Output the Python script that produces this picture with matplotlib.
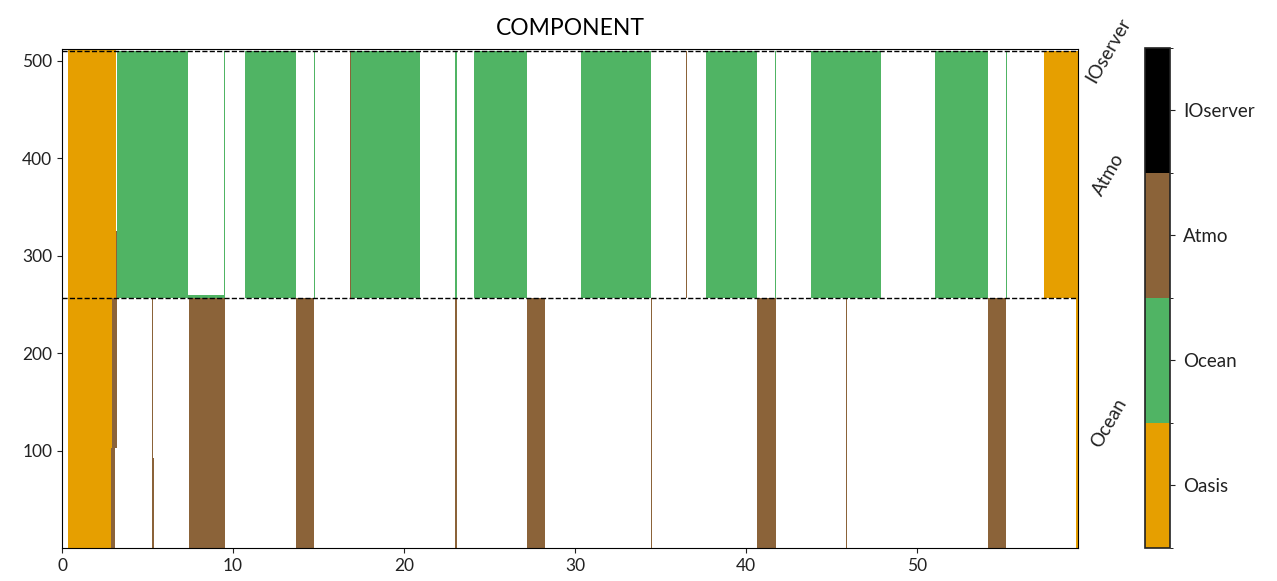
import matplotlib
matplotlib.use("Agg")
import matplotlib.pyplot as plt
from matplotlib.colors import ListedColormap, BoundaryNorm
from matplotlib.cm import ScalarMappable
import matplotlib.transforms as mtransforms

plt.rcParams['font.family'] = ['Lato', 'DejaVu Sans']

components = ["Oasis", "Ocean", "Atmo", "IOserver"]
comp_colors = ["#E69F00", "#50B464", "#8B6339", "#000000"]

# rank groups: (label, first rank, last rank)
group_names = ["Ocean", "Atmo", "IOserver"]
group_lo = [0, 256, 510]
group_hi = [256, 510, 512]

# segments: start time, end time, rank range, component
seg_start = [0.35, 3.2, 9.45, 10.7, 14.72, 16.84, 16.84, 23.0, 24.1, 30.35,
             36.47, 37.66, 41.7, 43.8, 51.05, 55.18, 57.4, 5.4, 3.13,
             0.35, 2.92, 2.85, 5.24, 5.24, 7.43, 13.7, 23.0, 27.2, 34.43, 40.64,
             45.82, 54.15, 59.3]
seg_end = [3.13, 7.37, 9.52, 13.7, 14.79, 20.94, 16.92, 23.07, 27.2, 34.44,
           36.54, 40.64, 41.77, 47.9, 54.15, 55.25, 59.4, 9.52, 3.2,
           2.92, 3.2, 3.12, 5.3, 5.38, 9.53, 14.74, 23.07, 28.25, 34.5, 41.75,
           45.88, 55.2, 59.38]
seg_lo = [256, 256, 256, 256, 256, 256, 256, 256, 256, 256,
          256, 256, 256, 256, 256, 256, 256, 256, 256,
          0, 103, 0, 0, 0, 0, 0, 0, 0, 0, 0,
          0, 0, 0]
seg_hi = [512, 510, 510, 510, 510, 510, 510, 510, 510, 510,
          510, 510, 510, 510, 510, 510, 510, 260, 325,
          256, 256, 103, 256, 92, 256, 256, 256, 256, 256, 256,
          256, 256, 256]
seg_comp = ["Oasis", "Ocean", "Ocean", "Ocean", "Ocean", "Ocean", "Atmo", "Ocean", "Ocean", "Ocean",
            "Atmo", "Ocean", "Ocean", "Ocean", "Ocean", "Ocean", "Oasis", "Ocean", "Atmo",
            "Oasis", "Atmo", "Atmo", "Atmo", "Atmo", "Atmo", "Atmo", "Atmo", "Atmo", "Atmo", "Atmo",
            "Atmo", "Atmo", "Oasis"]

t_max = 59.4
x_ticks = [0, 10, 20, 30, 40, 50]
y_ticks = [100, 200, 300, 400, 500]

fig = plt.figure(figsize=(12.77, 5.81), dpi=100)
ax = fig.add_axes([0.0486, 0.0568, 0.7956, 0.8589])
cax = fig.add_axes([0.8966, 0.0568, 0.0196, 0.8606])

cmap = ListedColormap(comp_colors)
norm = BoundaryNorm([-0.5, 0.5, 1.5, 2.5, 3.5], cmap.N)

for s, e, lo, hi, c in zip(seg_start, seg_end, seg_lo, seg_hi, seg_comp):
    ax.bar(s, hi - lo, width=e - s, bottom=lo, align='edge',
           color=comp_colors[components.index(c)], linewidth=0)

# group boundaries
for lo in group_lo[1:]:
    ax.axhline(lo, color='k', linestyle='--', linewidth=1)

trans = mtransforms.blended_transform_factory(ax.transAxes, ax.transData)
for name, lo, hi in zip(group_names, group_lo, group_hi):
    ax.text(1.03, (lo + hi) / 2, name, transform=trans, rotation=60,
            ha='center', va='center', fontsize=13.5, color='#222222')

ax.set_xlim(0, t_max)
ax.set_ylim(0, 512)
ax.set_xticks(x_ticks)
ax.set_yticks(y_ticks)
ax.tick_params(labelsize=12.5, colors='#222222')
ax.set_title("COMPONENT", fontsize=16.5, pad=10)

sm = ScalarMappable(norm=norm, cmap=cmap)
cb = fig.colorbar(sm, cax=cax, ticks=[0, 1, 2, 3])
cb.ax.set_yticklabels(components)
cb.ax.tick_params(labelsize=13.5, colors='#222222', pad=6)
cb.outline.set_linewidth(1.2)
cb.outline.set_edgecolor('#222222')

fig.savefig("out.png", dpi=100)
